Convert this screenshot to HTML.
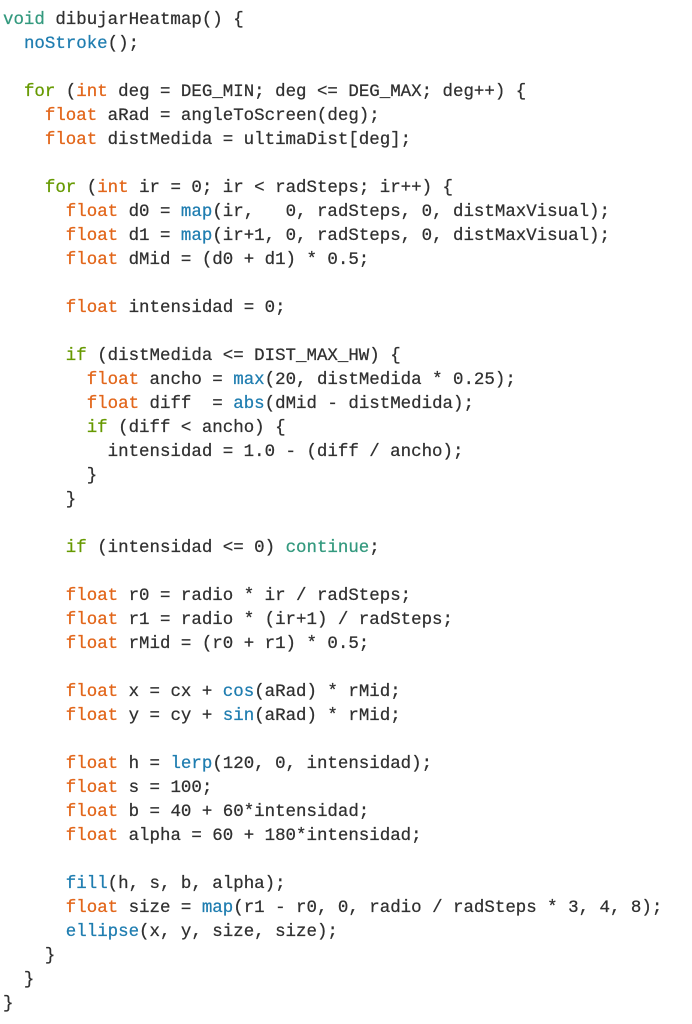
<!DOCTYPE html>
<html>
<head>
<meta charset="utf-8">
<style>
  html, body { margin: 0; padding: 0; background: #ffffff; }
  body { width: 692px; height: 1024px; overflow: hidden; position: relative; }
  pre {
    position: absolute;
    left: 3px;
    top: 8px;
    margin: 0;
    font-family: "Liberation Mono", "DejaVu Sans Mono", monospace;
    font-size: 17.45px;
    line-height: 24px;
    color: #303030;
    white-space: pre;
    -webkit-text-stroke: 0.25px currentColor;
  }
  .t { color: #33997e; }
  .g { color: #669900; }
  .o { color: #e2661a; }
  .b { color: #1f7db0; }
</style>
</head>
<body>
<pre><span class="t">void</span> dibujarHeatmap() {
  <span class="b">noStroke</span>();

  <span class="g">for</span> (<span class="o">int</span> deg = DEG_MIN; deg &lt;= DEG_MAX; deg++) {
    <span class="o">float</span> aRad = angleToScreen(deg);
    <span class="o">float</span> distMedida = ultimaDist[deg];

    <span class="g">for</span> (<span class="o">int</span> ir = 0; ir &lt; radSteps; ir++) {
      <span class="o">float</span> d0 = <span class="b">map</span>(ir,   0, radSteps, 0, distMaxVisual);
      <span class="o">float</span> d1 = <span class="b">map</span>(ir+1, 0, radSteps, 0, distMaxVisual);
      <span class="o">float</span> dMid = (d0 + d1) * 0.5;

      <span class="o">float</span> intensidad = 0;

      <span class="g">if</span> (distMedida &lt;= DIST_MAX_HW) {
        <span class="o">float</span> ancho = <span class="b">max</span>(20, distMedida * 0.25);
        <span class="o">float</span> diff  = <span class="b">abs</span>(dMid - distMedida);
        <span class="g">if</span> (diff &lt; ancho) {
          intensidad = 1.0 - (diff / ancho);
        }
      }

      <span class="g">if</span> (intensidad &lt;= 0) <span class="t">continue</span>;

      <span class="o">float</span> r0 = radio * ir / radSteps;
      <span class="o">float</span> r1 = radio * (ir+1) / radSteps;
      <span class="o">float</span> rMid = (r0 + r1) * 0.5;

      <span class="o">float</span> x = cx + <span class="b">cos</span>(aRad) * rMid;
      <span class="o">float</span> y = cy + <span class="b">sin</span>(aRad) * rMid;

      <span class="o">float</span> h = <span class="b">lerp</span>(120, 0, intensidad);
      <span class="o">float</span> s = 100;
      <span class="o">float</span> b = 40 + 60*intensidad;
      <span class="o">float</span> alpha = 60 + 180*intensidad;

      <span class="b">fill</span>(h, s, b, alpha);
      <span class="o">float</span> size = <span class="b">map</span>(r1 - r0, 0, radio / radSteps * 3, 4, 8);
      <span class="b">ellipse</span>(x, y, size, size);
    }
  }
}</pre>
</body>
</html>
